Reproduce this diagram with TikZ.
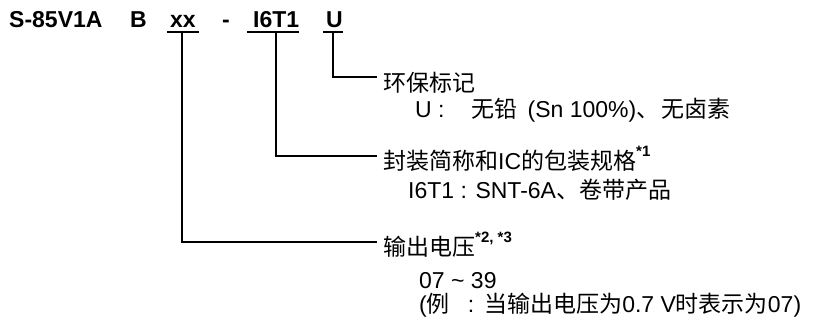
\documentclass[tikz,border=0pt]{standalone}
\usepackage{fontspec}
\setmainfont{Liberation Sans}
\newfontfamily\cjk{Noto Sans CJK SC}
\newcommand{\zh}[1]{{\cjk #1}}
\newcommand{\supr}[1]{\raisebox{0.55em}{\fontsize{15}{15}\selectfont\bfseries #1}}
\begin{document}
\begin{tikzpicture}[x=1pt,y=-1pt,
  code/.style={anchor=base west,inner sep=0pt,font=\fontsize{23}{23}\selectfont\bfseries},
  lbl/.style={anchor=base west,inner ysep=0pt,inner xsep=6pt,font=\fontsize{23}{23}\selectfont},
  txt/.style={anchor=base west,inner sep=0pt,font=\fontsize{23}{23}\selectfont},
  ln/.style={line width=1.7pt}]
\useasboundingbox (0,0) rectangle (813,327);
% code
\node[code] (cmain) at (9,27) {S-85V1A};
\node[code] (cb) at (130,27) {B};
\node[code] (cxx) at (170,27) {xx};
\node[code] (cdash) at (222,27) {-};
\node[code] (ci6) at (253,27) {I6T1};
\node[code] (cu) at (326,27) {U};
% underline coordinates
\coordinate (xxl) at (167,32); \coordinate (xxr) at (199,32); \coordinate (xxm) at (182,32);
\coordinate (i6l) at (247,32); \coordinate (i6r) at (299,32); \coordinate (i6m) at (276,32);
\coordinate (ul) at (323,32);  \coordinate (ur) at (343,32);  \coordinate (um) at (333,32);
\draw[ln] (xxl) -- (xxr);
\draw[ln] (i6l) -- (i6r);
\draw[ln] (ul) -- (ur);
% labels
\node[lbl] (lenv) at (377,91) {\zh{环保标记}};
\node[txt] (uval) at (415,117) {U :};
\node[txt] (uvaltxt) at (471,117) {\zh{无铅}\hspace{4pt} (Sn 100\%)\zh{、}\hspace{2pt}\zh{无卤素}};
\node[lbl] (lpkg) at (377,169) {\zh{封装简称和}IC\zh{的包装规格}\supr{*1}};
\node[txt] (pval) at (408,198) {I6T1 : SNT-6A\zh{、卷带产品}};
\node[lbl] (lvolt) at (377,255) {\zh{输出电压}\supr{*2, *3}};
\node[txt] (vrange) at (419,288) {07 \char"007E{} 39};
\node[txt] (vex) at (419,312) {(\zh{例}\hspace{18pt}:\hspace{10pt}\zh{当输出电压为}0.7 V\zh{时表示为}07)};
% connectors
\draw[ln] (um) |- ([yshift=14pt]lenv.base west);
\draw[ln] (i6m) |- ([yshift=13pt]lpkg.base west);
\draw[ln] (xxm) |- ([yshift=13pt]lvolt.base west);
\end{tikzpicture}
\end{document}
